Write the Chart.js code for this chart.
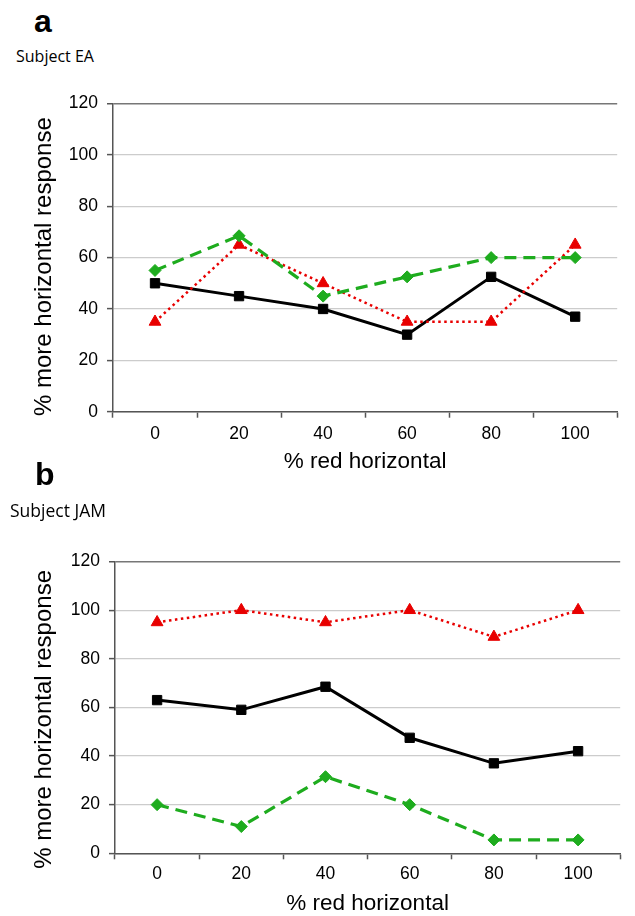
<!DOCTYPE html>
<html>
<head>
<meta charset="utf-8">
<script src="https://cdn.jsdelivr.net/npm/chart.js@4.4.0/dist/chart.umd.min.js"></script>
<style>
body{margin:0;width:635px;height:916px;overflow:hidden;background:#fff;position:relative}
.panel{position:absolute;font-family:"Liberation Sans",Arial,sans-serif;font-weight:bold;font-size:32px;color:#000;line-height:1}
.subj{position:absolute;font-family:"Open Sans",sans-serif;color:#000;line-height:1}
canvas{position:absolute;left:0}
</style>
</head>
<body>
<div class="panel" style="left:34px;top:5px">a</div>
<div class="subj" style="left:16px;top:48px;font-size:16px">Subject EA</div>
<canvas id="chartA" width="625" height="392" style="top:84px"></canvas>

<div class="panel" style="left:35px;top:458px">b</div>
<div class="subj" style="left:10px;top:502px;font-size:17.5px">Subject JAM</div>
<canvas id="chartB" width="628" height="376" style="top:542px"></canvas>

<script>
var categories = ['0', '20', '40', '60', '80', '100'];
var yTicks = [0, 20, 40, 60, 80, 100, 120];

// Subject EA
var eaBlack = [50, 45, 40, 30, 52.5, 37];
var eaGreen = [55, 68.5, 45, 52.5, 60, 60];
var eaRed = [35, 65, 50, 35, 35, 65];

// Subject JAM
var jamBlack = [63, 59, 68.5, 47.5, 37, 42];
var jamGreen = [20, 11, 31.5, 20, 5.5, 5.5];
var jamRed = [95, 100, 95, 100, 89, 100];

var GREEN = 'rgb(30,172,30)';
var RED = 'rgb(232,0,0)';
var AXIS = '#555';
var FONT = 'Liberation Sans';

// the y title in the original sits a little below the middle of the axis
function shiftTitle(dy) {
    return function (scale) {
        if (scale._titleShifted) return;
        var orig = scale.drawTitle;
        scale.drawTitle = function () {
            this.ctx.save();
            this.ctx.translate(0, dy);
            orig.call(this);
            this.ctx.restore();
        };
        scale._titleShifted = true;
    };
}

function makeChart(id, black, green, red, o) {
    var ctx = document.getElementById(id).getContext('2d');
    return new Chart(ctx, {
        type: 'line',
        data: {
            labels: categories,
            datasets: [{
                label: 'green',
                data: green,
                borderColor: GREEN,
                backgroundColor: GREEN,
                borderWidth: 3.2,
                borderDash: [12, 7],
                pointStyle: 'rectRot',
                pointRadius: 6,
                pointBorderWidth: 1,
                tension: 0
            }, {
                label: 'red',
                data: red,
                borderColor: RED,
                backgroundColor: RED,
                borderWidth: 2.5,
                borderDash: [2.5, 3.5],
                pointStyle: 'triangle',
                pointRadius: 6.8,
                pointBorderWidth: 1,
                tension: 0
            }, {
                label: 'black',
                data: black,
                borderColor: '#000',
                backgroundColor: '#000',
                borderWidth: 3,
                pointStyle: 'rect',
                pointRadius: 6.6,
                pointBorderWidth: 1,
                tension: 0
            }]
        },
        options: {
            responsive: false,
            animation: false,
            devicePixelRatio: 1,
            layout: {padding: {top: o.padTop, left: 0, right: 0, bottom: 0}},
            plugins: {legend: {display: false}, tooltip: {enabled: false}},
            scales: {
                x: {
                    type: 'category',
                    offset: true,
                    grid: {offset: true, drawOnChartArea: false, tickLength: 6, tickColor: AXIS, tickWidth: 1.5},
                    border: {color: AXIS, width: 1.5},
                    ticks: {color: '#000', padding: o.tickPad, font: {family: FONT, size: 17.5}},
                    title: {display: true, text: '% red horizontal', color: '#000', padding: {top: 0, bottom: 0.5},
                        font: {family: FONT, size: 22.5}},
                    afterFit: function (scale) { scale.height = o.axisHeight; }
                },
                y: {
                    min: 0,
                    max: 120,
                    afterBuildTicks: function (scale) {
                        scale.ticks = yTicks.map(function (v) { return {value: v}; });
                    },
                    grid: {
                        tickLength: 6,
                        tickColor: AXIS,
                        tickWidth: 1.5,
                        lineWidth: function (c) { return c.tick && c.tick.value === 120 ? 1.5 : 1.2; },
                        color: function (c) { return c.tick && c.tick.value === 120 ? '#777' : '#cccccc'; }
                    },
                    border: {color: AXIS, width: 1.5},
                    ticks: {color: '#000', padding: 9, font: {family: FONT, size: 17.5}},
                    title: {display: true, text: '% more horizontal response', color: '#000', padding: {top: 29.6, bottom: 0},
                        font: {family: FONT, size: 24}},
                    afterFit: function (scale) { scale.width = o.axisWidth; },
                    afterUpdate: shiftTitle(o.titleShift)
                }
            }
        }
    });
}

makeChart('chartA', eaBlack, eaGreen, eaRed, {axisWidth: 113, axisHeight: 64.3, padTop: 10, tickPad: 6, titleShift: 9});
makeChart('chartB', jamBlack, jamGreen, jamRed, {axisWidth: 115, axisHeight: 64.7, padTop: 10.3, tickPad: 4.7, titleShift: 12});
</script>
</body>
</html>
